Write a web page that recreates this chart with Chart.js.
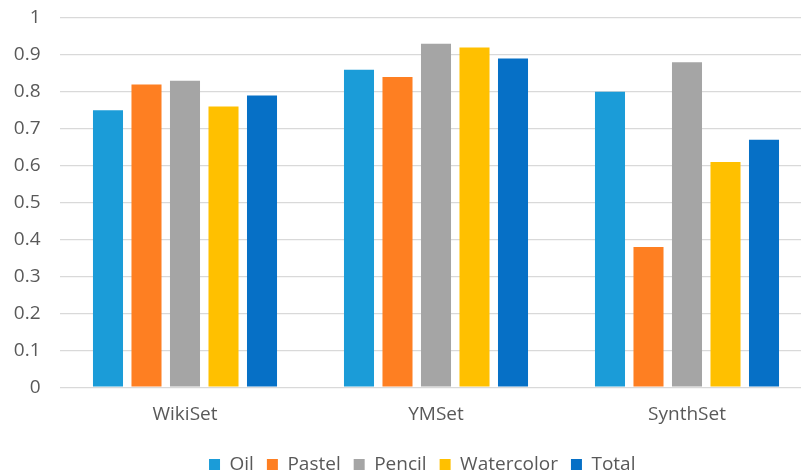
<!DOCTYPE html>
<html>
<head>
<meta charset="utf-8">
<title>Accuracy by dataset</title>
<script src="https://cdn.jsdelivr.net/npm/chart.js@4/dist/chart.umd.min.js"></script>
<style>
    html, body { margin: 0; padding: 0; background: #fff; overflow: hidden; }
    #wrap { width: 830px; height: 484px; }
</style>
</head>
<body>
<div id="wrap"><canvas id="accChart"></canvas></div>
<script>
// datasets on the x axis
const categories = ['WikiSet', 'YMSet', 'SynthSet'];

// scores per painting style
const oil = [0.75, 0.86, 0.80];
const pastel = [0.82, 0.84, 0.38];
const pencil = [0.83, 0.93, 0.88];
const watercolor = [0.76, 0.92, 0.61];
const total = [0.79, 0.89, 0.67];

const yTicks = [0, 0.1, 0.2, 0.3, 0.4, 0.5, 0.6, 0.7, 0.8, 0.9, 1];

const textColor = '#595959';
const font = { family: '"Open Sans", "Noto Sans", sans-serif', size: 19 };

function series(label, data, color) {
    return {
        label: label,
        data: data,
        backgroundColor: color,
        borderWidth: 0,
        categoryPercentage: 0.767,
        barPercentage: 0.78
    };
}

// the legend sits a bit right of the plot centre, nudge it over
const legendNudge = {
    id: 'legendNudge',
    afterLayout(chart) {
        chart.legend.left += 16;
        chart.legend.right += 16;
    }
};

new Chart(document.getElementById('accChart'), {
    type: 'bar',
    data: {
        labels: categories,
        datasets: [
            series('Oil', oil, '#1b9cd8'),
            series('Pastel', pastel, '#fe7f22'),
            series('Pencil', pencil, '#a5a5a5'),
            series('Watercolor', watercolor, '#ffc000'),
            series('Total', total, '#0670c6')
        ]
    },
    plugins: [legendNudge],
    options: {
        responsive: true,
        maintainAspectRatio: false,
        animation: false,
        layout: { padding: { top: 18, left: 0, right: 17.5, bottom: 0 } },
        plugins: {
            tooltip: { enabled: false },
            legend: {
                position: 'bottom',
                labels: {
                    boxWidth: 11,
                    boxHeight: 11,
                    padding: 13,
                    color: textColor,
                    font: font
                }
            }
        },
        scales: {
            x: {
                grid: { display: false, drawTicks: false },
                border: { display: false },
                ticks: { color: textColor, font: font, padding: 16 }
            },
            y: {
                min: 0,
                max: 1,
                afterBuildTicks: (scale) => {
                    scale.ticks = yTicks.map(v => ({ value: v }));
                },
                afterFit: (scale) => { scale.width = 59.5; },
                border: { display: false },
                // invisible tick marks keep the labels away from the plot
                grid: { color: '#d9d9d9', lineWidth: 1.3, tickLength: 19, tickColor: 'rgba(0,0,0,0)' },
                ticks: {
                    color: textColor,
                    font: font,
                    padding: 0,
                    callback: (v) => String(v)
                }
            }
        }
    }
});
</script>
</body>
</html>
